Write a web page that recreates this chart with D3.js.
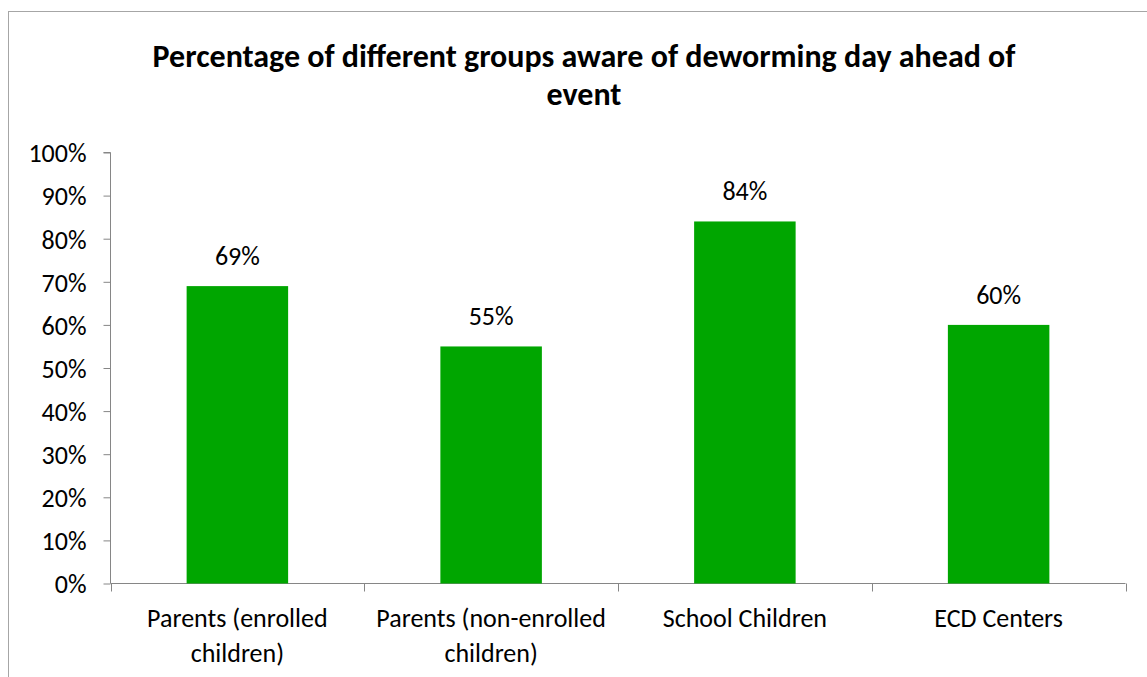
<!DOCTYPE html>
<html><head><meta charset="utf-8">
<script src="https://cdn.jsdelivr.net/npm/d3@7"></script>
<style>body{margin:0;background:#fff}svg{display:block}text{font-family:Carlito,Lato,"Open Sans",sans-serif;fill:#000}</style>
</head><body>
<svg id="c" width="1147" height="677"></svg>
<script>
const categories = [["Parents (enrolled","children)"],["Parents (non-enrolled","children)"],["School Children"],["ECD Centers"]];
const values = [69, 55, 84, 60];
const yTicks = [0,10,20,30,40,50,60,70,80,90,100];
const title = ["Percentage of different groups aware of deworming day ahead of","event"];

(function(){
const svg = d3.select("#c");
svg.append("rect").attr("x",8.5).attr("y",11.5).attr("width",1150).attr("height",680)
  .attr("fill","none").attr("stroke","#a6a6a6").attr("stroke-width",1);

const pL=110.5, pR=1125.5, pT=152.5, pB=583.5;
const x = d3.scaleBand().domain(d3.range(categories.length)).range([pL,pR]).paddingInner(0.6).paddingOuter(0.3);
const xb = d3.scaleBand().domain(d3.range(categories.length)).range([pL,pR]);
const y = d3.scaleLinear().domain([0,100]).range([pB,pT]);

const tg = svg.append("g");
title.forEach((t,i)=>tg.append("text").attr("x",584).attr("y",67+i*38).attr("text-anchor","middle")
  .attr("font-weight","bold").attr("font-size",32).text(t));

const ya = svg.append("g").attr("transform",`translate(${pL},0)`)
  .call(d3.axisLeft(y).tickValues(yTicks).tickSize(7).tickPadding(17).tickFormat(d=>d+"%"));
ya.select(".domain").attr("stroke","#868686").attr("d",`M-7,${pT}H0V${pB}`);
ya.selectAll(".tick line").attr("stroke","#868686");
ya.selectAll(".tick text").attr("font-size",26).attr("dy","0.36em").attr("font-family","Carlito,Lato,'Open Sans',sans-serif").attr("fill","#000");

const xa = svg.append("g");
xa.append("line").attr("x1",pL).attr("x2",pR).attr("y1",pB).attr("y2",pB).attr("stroke","#868686");
const bounds = d3.range(categories.length+1).map(i=> i<categories.length? xb(i): xb(categories.length-1)+xb.bandwidth());
xa.selectAll("line.t").data(bounds).join("line").attr("class","t")
  .attr("x1",d=>Math.round(d)+0.5).attr("x2",d=>Math.round(d)+0.5).attr("y1",pB).attr("y2",pB+8).attr("stroke","#868686");

svg.selectAll("rect.bar").data(values).join("rect").attr("class","bar")
  .attr("x",(d,i)=>x(i)).attr("width",x.bandwidth())
  .attr("y",d=>y(d)).attr("height",d=>y(0)-y(d)).attr("fill","#00A600");

svg.selectAll("text.val").data(values).join("text").attr("class","val")
  .attr("x",(d,i)=>x(i)+x.bandwidth()/2).attr("y",d=>y(d)-21)
  .attr("text-anchor","middle").attr("font-size",26).text(d=>d+"%");

categories.forEach((lines,i)=>{
  lines.forEach((l,j)=>svg.append("text").attr("x",xb(i)+xb.bandwidth()/2).attr("y",627+j*35)
    .attr("text-anchor","middle").attr("font-size",26).text(l));
});
})();
</script>
</body></html>
